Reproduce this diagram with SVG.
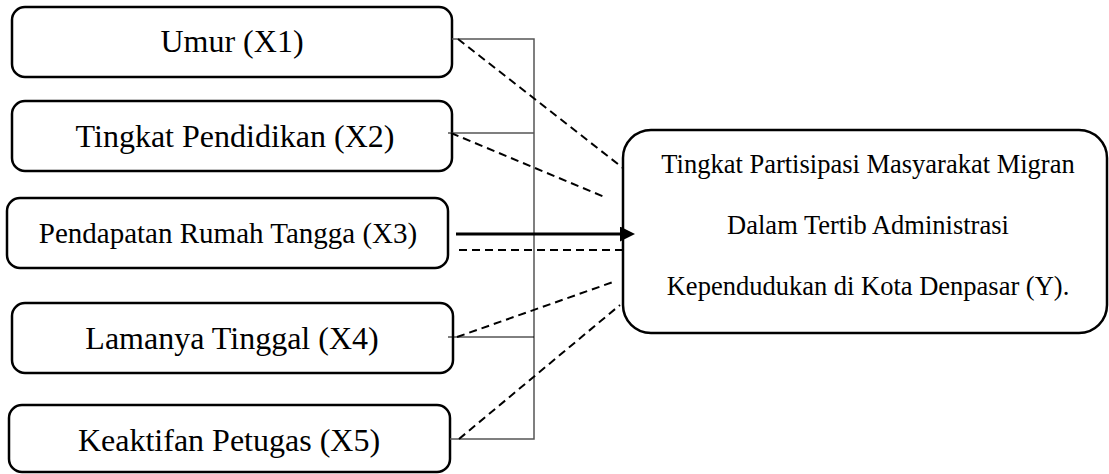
<svg xmlns="http://www.w3.org/2000/svg" width="1109" height="474" viewBox="0 0 1109 474">
<style>
.box{fill:#fff;stroke:#000;stroke-width:2.5}
.t{font-family:"Liberation Serif","Times New Roman",serif;fill:#000;text-anchor:middle}
.gl{stroke:#555;stroke-width:1.5;fill:none}
.dl{stroke:#000;stroke-width:2;stroke-dasharray:8 5;fill:none}
</style>
<defs>
<marker id="ah" markerWidth="5" markerHeight="5" refX="0" refY="2.5" orient="auto" markerUnits="strokeWidth"><path d="M0,0 L5,2.5 L0,5 Z" fill="#000"/></marker>
</defs>
<g id="x1"><rect class="box" x="12" y="7" width="440" height="70" rx="13"/><text class="t" x="232" y="52" font-size="32">Umur (X1)</text></g>
<g id="x2"><rect class="box" x="12" y="101" width="440" height="70" rx="13"/><text class="t" x="235" y="147" font-size="32">Tingkat Pendidikan (X2)</text></g>
<g id="x3"><rect class="box" x="7" y="198" width="441" height="70" rx="13"/><text class="t" x="228" y="243" font-size="29">Pendapatan Rumah Tangga (X3)</text></g>
<g id="x4"><rect class="box" x="12" y="303" width="441" height="70" rx="13"/><text class="t" x="232" y="349" font-size="32">Lamanya Tinggal (X4)</text></g>
<g id="x5"><rect class="box" x="9" y="405" width="441" height="67" rx="13"/><text class="t" x="229" y="451" font-size="32">Keaktifan Petugas (X5)</text></g>
<g id="y"><rect class="box" x="623" y="130" width="484" height="203" rx="28"/>
<text class="t" x="868" y="173" font-size="26.5">Tingkat Partisipasi Masyarakat Migran</text>
<text class="t" x="868" y="234" font-size="26.5">Dalam Tertib Administrasi</text>
<text class="t" x="868" y="295" font-size="26.5">Kependudukan di Kota Denpasar (Y).</text>
</g>
<g id="connectors">
<polyline class="gl" points="452,39 534,39 534,439 450,439"/>
<line class="gl" x1="448" y1="133" x2="534" y2="133"/>
<line x1="448" y1="337" x2="534" y2="337" stroke="#000" stroke-width="1"/>
<line class="dl" x1="458" y1="39" x2="623" y2="168"/>
<line class="dl" x1="451" y1="133" x2="607" y2="198"/>
<line class="dl" x1="459" y1="250" x2="625" y2="250"/>
<line class="dl" x1="457" y1="337" x2="616" y2="281"/>
<line class="dl" x1="459" y1="439" x2="620" y2="305"/>
<line x1="456" y1="234" x2="620" y2="234" stroke="#000" stroke-width="3" marker-end="url(#ah)"/>
</g>
</svg>
